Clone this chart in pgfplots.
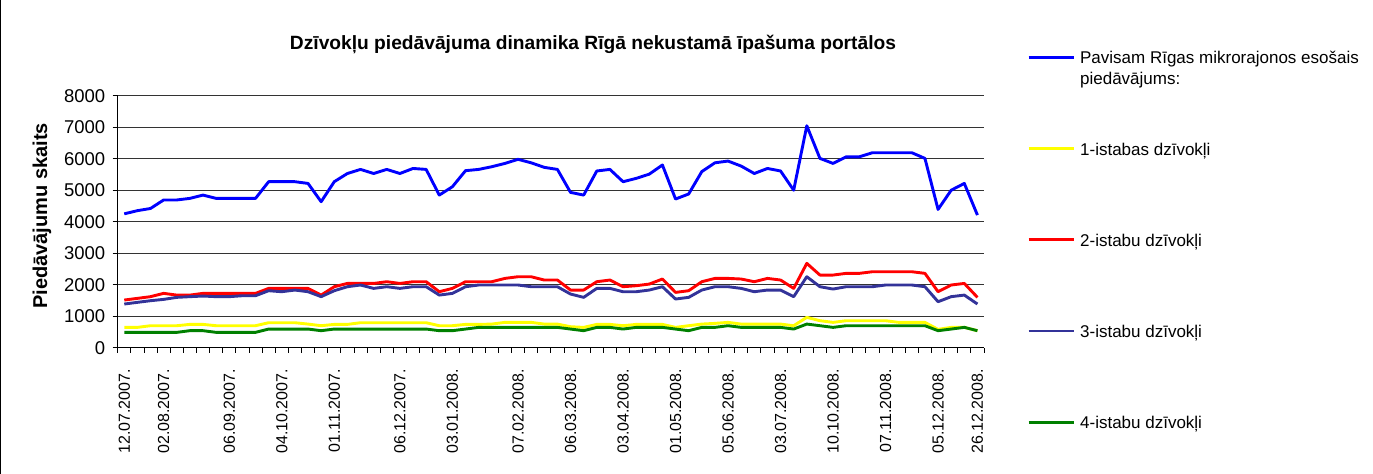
\documentclass[border=0pt]{standalone}
\usepackage{fontspec}
\setmainfont{Liberation Sans}
\usepackage{pgfplots}
\pgfplotsset{compat=1.18}
\usepackage{pgfplotstable}
\definecolor{sBlue}{RGB}{0,0,255}
\definecolor{sYellow}{RGB}{255,255,0}
\definecolor{sRed}{RGB}{255,0,0}
\definecolor{sNavy}{RGB}{51,51,153}
\definecolor{sGreen}{RGB}{0,128,0}

% weekly observations, columns: index, total, 1-room, 2-room, 3-room, 4-room
\pgfplotstableread{
i total one two three four
0 4250 645 1513 1386 487
1 4350 645 1566 1440 487
2 4420 698 1620 1492 487
3 4690 698 1725 1534 487
4 4690 698 1670 1598 487
5 4740 740 1670 1620 540
6 4845 740 1725 1640 540
7 4740 698 1725 1620 487
8 4740 698 1725 1620 487
9 4740 698 1725 1650 487
10 4740 698 1725 1650 487
11 5270 793 1883 1809 592
12 5270 793 1883 1777 592
13 5270 793 1883 1830 592
14 5215 750 1883 1777 592
15 4635 698 1670 1620 540
16 5270 740 1936 1809 592
17 5530 740 2040 1936 592
18 5660 793 2040 1990 592
19 5530 793 2040 1883 592
20 5660 793 2095 1936 592
21 5530 793 2040 1883 592
22 5690 793 2095 1936 592
23 5660 793 2095 1936 592
24 4845 698 1777 1670 540
25 5110 698 1883 1724 540
26 5620 740 2095 1936 592
27 5660 740 2095 1990 645
28 5745 750 2095 1990 645
29 5850 804 2200 1990 645
30 5980 804 2253 1990 645
31 5870 804 2253 1936 645
32 5725 750 2148 1936 645
33 5660 750 2148 1936 645
34 4930 666 1830 1703 592
35 4845 645 1830 1598 540
36 5610 740 2095 1883 645
37 5660 740 2148 1883 645
38 5270 698 1936 1777 592
39 5375 740 1968 1777 645
40 5510 740 2020 1830 645
41 5800 740 2180 1936 645
42 4720 645 1756 1545 592
43 4880 698 1809 1598 540
44 5590 750 2095 1830 645
45 5870 772 2200 1936 645
46 5925 804 2200 1936 698
47 5765 750 2180 1883 645
48 5530 750 2095 1777 645
49 5690 750 2200 1830 645
50 5610 750 2148 1830 645
51 5000 698 1883 1620 592
52 7045 963 2677 2253 750
53 6010 857 2306 1936 698
54 5850 804 2306 1862 645
55 6060 857 2360 1936 698
56 6060 857 2360 1936 698
57 6190 857 2412 1936 698
58 6190 857 2412 1990 698
59 6190 804 2412 1990 698
60 6190 804 2412 1990 698
61 6010 804 2360 1936 698
62 4390 582 1777 1460 540
63 5000 645 1990 1620 592
64 5215 645 2040 1670 645
65 4210 540 1598 1386 540
}\data

\newcommand{\lgd}[1]{\parbox[t]{300bp}{\strut #1\\\strut}}

\begin{document}
\begin{tikzpicture}
\path[use as bounding box] (0,0) rectangle (1373bp,474bp);
\draw[black, line width=1bp] (0.5bp,0) -- (0.5bp,474bp);
\begin{axis}[
  at={(117.7bp,126.3bp)}, anchor=south west,
  scale only axis, width=866.3bp, height=252bp,
  xmin=-0.5, xmax=65.5, ymin=0, ymax=8000,
  axis x line*=bottom, axis y line*=left,
  axis line style={-, black, line width=0.8bp},
  font=\fontsize{16bp}{19bp}\selectfont,
  /pgf/number format/assume math mode=true,
  /pgf/number format/set thousands separator={},
  ytick={0,1000,...,8000},
  ymajorgrids, grid style={black!80, line width=0.8bp},
  tick align=outside,
  major tick length=5bp, minor tick length=5bp,
  tick style={black, line width=0.8bp},
  xtick={0,3,8,12,16,21,25,30,34,38,42,46,50,54,58,62,65},
  xticklabels={12.07.2007.,02.08.2007.,06.09.2007.,04.10.2007.,01.11.2007.,06.12.2007.,03.01.2008.,07.02.2008.,06.03.2008.,03.04.2008.,01.05.2008.,05.06.2008.,03.07.2008.,10.10.2008.,07.11.2008.,05.12.2008.,26.12.2008.},
  major x tick style={draw=none},
  minor xtick={-0.5,0.5,...,65.5},
  xticklabel style={rotate=90, anchor=east, xshift=-13bp},
  yticklabel style={xshift=-4bp, font=\fontsize{18.5bp}{21bp}\selectfont},
  legend style={at={(1.0497,1.185)}, anchor=north west, draw=none, fill=none,
    inner sep=0pt, row sep=75bp, column sep=5bp,
    nodes={inner sep=0pt, anchor=west},
    font=\fontsize{17bp}{21bp}\selectfont},
  legend image code/.code={\draw[#1] (0bp,0bp) -- (45bp,0bp);},
  legend cell align=left,
  every axis plot/.append style={line width=2.9bp, line join=round},
]
\addplot[sBlue] table[x=i, y=total] {\data};
\addplot[sYellow] table[x=i, y=one] {\data};
\addplot[sRed] table[x=i, y=two] {\data};
\addplot[sNavy] table[x=i, y=three] {\data};
\addplot[sGreen] table[x=i, y=four] {\data};
\legend{\lgd{Pavisam Rīgas mikrorajonos esošais\\piedāvājums:},
  \lgd{1-istabas dzīvokļi}, \lgd{2-istabu dzīvokļi},
  \lgd{3-istabu dzīvokļi}, \lgd{4-istabu dzīvokļi}}
\end{axis}
\node[font=\bfseries\fontsize{19.2bp}{22bp}\selectfont] at (593bp,430bp)
  {Dzīvokļu piedāvājuma dinamika Rīgā nekustamā īpašuma portālos};
\node[rotate=90, font=\bfseries\fontsize{20bp}{24bp}\selectfont] at (42bp,258bp)
  {Piedāvājumu skaits};
\end{tikzpicture}
\end{document}
